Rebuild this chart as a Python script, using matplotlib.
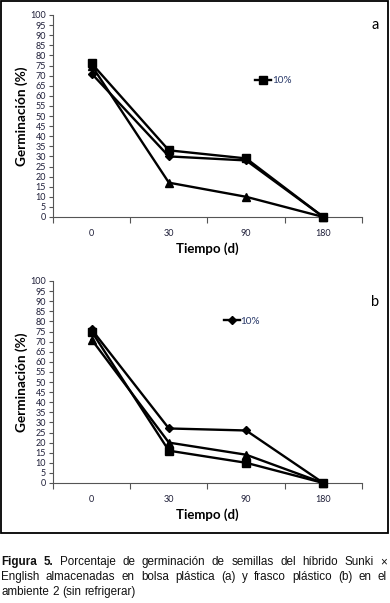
import matplotlib
matplotlib.use("Agg")
import matplotlib.pyplot as plt
from matplotlib import font_manager
from matplotlib.patches import Rectangle

# ---- data ----
categories = ["0", "30", "90", "180"]
yticks = list(range(0, 101, 5))

a_square = [76, 33, 29, 0]
a_diamond = [71, 30, 28, 0]
a_triangle = [75, 17, 10, 0]

b_diamond = [76, 27, 26, 0]
b_triangle = [71, 20, 14, 0]
b_square = [75, 16, 10, 0]

legend_label = "10%"
xlabel = "Tiempo (d)"
ylabel = "Germinación (%)"

caption_lines = [
    ["Figura", "5.", "Porcentaje", "de", "germinación", "de", "semillas", "del", "híbrido", "Sunki", "×"],
    ["English", "almacenadas", "en", "bolsa", "plástica", "(a)", "y", "frasco", "plástico", "(b)", "en", "el"],
    ["ambiente", "2", "(sin", "refrigerar)"],
]

def has_font(name):
    try:
        font_manager.findfont(name, fallback_to_default=False)
        return True
    except Exception:
        return False

tick_font = "Lato" if has_font("Lato") else "DejaVu Sans"
cap_font = "Liberation Sans Narrow" if has_font("Liberation Sans Narrow") else "Liberation Sans"

W, H = 390, 603
fig = plt.figure(figsize=(W / 100, H / 100), dpi=100)

def px_axes(x0, x1, ytop, ybot):
    return fig.add_axes([x0 / W, 1 - ybot / H, (x1 - x0) / W, (ybot - ytop) / H])

tick_color = "#20203a"

def style_axes(ax, series, leg_pos, letter, letter_y):
    x = list(range(len(categories)))
    for vals, mk, ms, lab in series:
        ax.plot(x, vals, color="black", lw=1.7, marker=mk, ms=ms,
                mec="black", mfc="black", label=lab, clip_on=False, zorder=3)
    ax.set_xlim(-0.5, len(categories) - 0.5)
    ax.set_ylim(0, 100)
    ax.set_yticks(yticks)
    ax.set_yticklabels([str(v) for v in yticks], fontsize=6.5, family=tick_font, color=tick_color)
    ax.set_xticks(x)
    ax.set_xticklabels(categories, fontsize=6.5, family=tick_font, color=tick_color)
    ax.tick_params(axis="x", which="major", length=0, pad=9)
    ax.set_xticks([i - 0.5 for i in range(len(categories) + 1)], minor=True)
    ax.tick_params(axis="x", which="minor", length=4, width=0.8, color="#555555", direction="out")
    ax.tick_params(axis="y", length=3, width=0.8, color="#555555", pad=2)
    for s in ("top", "right"):
        ax.spines[s].set_visible(False)
    for s in ("left", "bottom"):
        ax.spines[s].set_color("#555555")
        ax.spines[s].set_linewidth(0.8)
    ax.set_xlabel(xlabel, fontsize=9.5, fontweight="bold", family=tick_font, labelpad=3)
    ax.set_ylabel(ylabel, fontsize=9.8, fontweight="bold", family=tick_font, labelpad=2)
    leg = ax.legend(loc="center left", bbox_to_anchor=leg_pos, frameon=False,
                    handlelength=1.6, handletextpad=0.05, borderpad=0, borderaxespad=0,
                    prop={"family": tick_font, "size": 7.2})
    for t in leg.get_texts():
        t.set_color("#2a3a6a")
    fig.text(375 / W, 1 - letter_y / H, letter, fontsize=10.5, family=tick_font,
             ha="center", va="center")

ax_a = px_axes(53, 362, 15, 217)
style_axes(ax_a, [
    (a_diamond, "D", 4.0, None),
    (a_triangle, "^", 5.5, None),
    (a_square, "s", 5.5, legend_label),
], (0.655, 0.675), "a", 25)

ax_b = px_axes(53, 362, 281, 483)
style_axes(ax_b, [
    (b_triangle, "^", 5.5, None),
    (b_square, "s", 5.5, None),
    (b_diamond, "D", 4.0, legend_label),
], (0.552, 0.80), "b", 302)

# outer frame
fig.patches.append(Rectangle((1 / W, 1 - 533 / H), 387 / W, 532 / H,
                             transform=fig.transFigure, fill=False,
                             edgecolor="black", linewidth=1.3))

# caption, justified
renderer = fig.canvas.get_renderer()
line_y = [562, 577, 592]
left, right = 1, 387
for li, words in enumerate(caption_lines):
    texts = []
    for wi, w in enumerate(words):
        bold = (li == 0 and wi < 2)
        t = fig.text(0, 1 - line_y[li] / H, w, fontsize=8.4, family=cap_font,
                     fontweight="bold" if bold else "normal", va="center", ha="left",
                     color="#111111")
        texts.append(t)
    widths = [t.get_window_extent(renderer).width for t in texts]
    if li < len(caption_lines) - 1:
        gap = (right - left - sum(widths)) / (len(words) - 1)
    else:
        gap = (texts[0].get_fontsize() * 100 / 72) * 0.28
    x = left
    for t, w in zip(texts, widths):
        t.set_x(x / W)
        x += w + gap

fig.savefig("out.png", dpi=100)
